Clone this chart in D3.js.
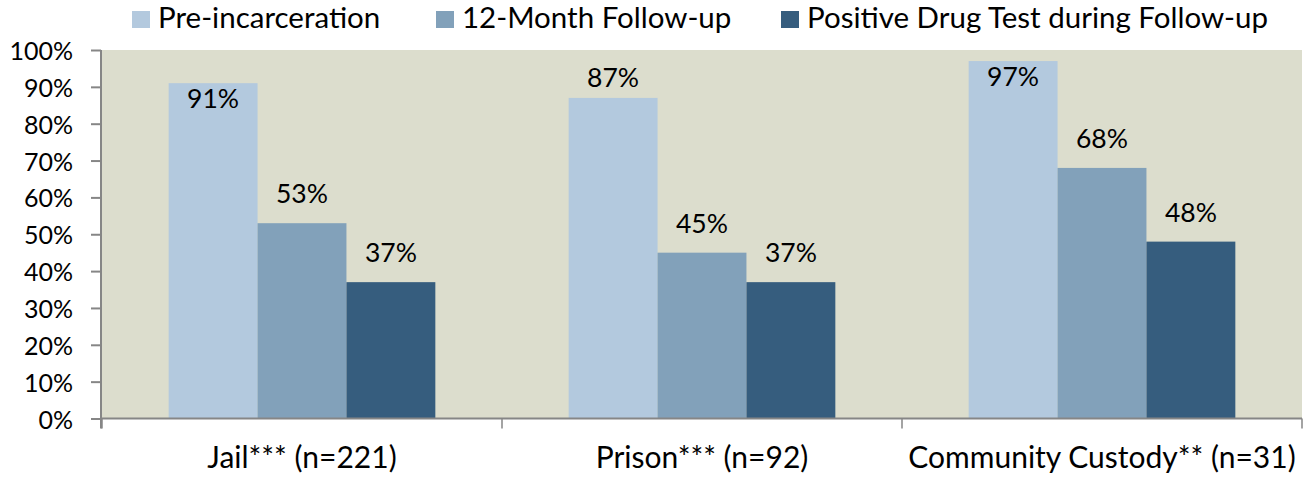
<!DOCTYPE html>
<html>
<head>
<meta charset="utf-8">
<script src="https://cdn.jsdelivr.net/npm/d3@7/dist/d3.min.js"></script>
<style>
  html, body { margin: 0; padding: 0; background: #ffffff; }
  svg { display: block; }
  text { font-family: Lato, "Open Sans", sans-serif; fill: #000; }
</style>
</head>
<body>
<svg id="chart" width="1304" height="477"></svg>
<script>
// ---- data ----
const categories = ["Jail*** (n=221)", "Prison*** (n=92)", "Community Custody** (n=31)"];
const seriesNames = ["Pre-incarceration", "12-Month Follow-up", "Positive Drug Test during Follow-up"];
const preIncarceration = [91, 87, 97];
const followUp12Month = [53, 45, 68];
const positiveDrugTest = [37, 37, 48];
const yTicks = [0, 10, 20, 30, 40, 50, 60, 70, 80, 90, 100];

const seriesValues = [preIncarceration, followUp12Month, positiveDrugTest];
const colors = ["#B3C9DE", "#82A1BA", "#365D7E"];

// ---- layout ----
const svg = d3.select("#chart");
const plot = { left: 102, right: 1302, top: 50, bottom: 418.5 };

const x0 = d3.scaleBand().domain(categories).range([plot.left, plot.right]).padding(0);
const bw = x0.bandwidth();
const gap = bw / 4.5 * 0.75; // Excel gap width 150%
const x1 = d3.scaleBand().domain(seriesNames).range([gap, bw - gap]).padding(0);
const y = d3.scaleLinear().domain([0, 100]).range([plot.bottom, plot.top]);

// plot background
svg.append("rect")
  .attr("x", plot.left).attr("y", plot.top)
  .attr("width", plot.right - plot.left).attr("height", plot.bottom - plot.top)
  .attr("fill", "#DCDDCD");

// bars
const rows = [];
categories.forEach((c, i) => {
  seriesNames.forEach((s, j) => rows.push({ cat: c, series: s, si: j, value: seriesValues[j][i] }));
});

const g = svg.append("g");
g.selectAll("rect.bar").data(rows).join("rect")
  .attr("class", "bar")
  .attr("x", d => x0(d.cat) + x1(d.series))
  .attr("y", d => y(d.value))
  .attr("width", x1.bandwidth())
  .attr("height", d => y(0) - y(d.value))
  .attr("fill", d => colors[d.si]);

// data labels
const labelSize = 26.5;
const aboveGap = 20, boxAbove = 37, insideOffset = 25;
g.selectAll("text.lbl").data(rows).join("text")
  .attr("class", "lbl")
  .attr("x", d => x0(d.cat) + x1(d.series) + x1.bandwidth() / 2)
  .attr("y", d => {
    const top = y(d.value);
    let base = top - aboveGap;
    if (base - boxAbove < plot.top) {
      const clamped = plot.top + boxAbove;
      base = clamped < top ? clamped : top + insideOffset;
    }
    return base;
  })
  .attr("text-anchor", "middle")
  .style("font-size", labelSize + "px")
  .text(d => d.value + "%");

// y axis
const yAxis = d3.axisLeft(y).tickValues(yTicks).tickSize(10).tickPadding(18)
  .tickFormat(d => d + "%");
const ya = svg.append("g").attr("transform", `translate(${plot.left - 1},0)`).call(yAxis);
ya.select(".domain").remove();
ya.selectAll(".tick line").attr("stroke", "#868686").attr("stroke-width", 2);
ya.selectAll(".tick text").style("font-size", "25px").attr("dy", "0.38em").attr("fill", "#000");
svg.append("line")
  .attr("x1", plot.left - 1).attr("x2", plot.left - 1)
  .attr("y1", plot.top).attr("y2", plot.bottom + 10)
  .attr("stroke", "#868686").attr("stroke-width", 2);

// x axis
svg.append("line")
  .attr("x1", plot.left - 1).attr("x2", plot.right)
  .attr("y1", plot.bottom).attr("y2", plot.bottom)
  .attr("stroke", "#868686").attr("stroke-width", 2);
const boundaries = categories.map(c => x0(c)).concat([plot.right]);
svg.selectAll("line.xtick").data(boundaries).join("line")
  .attr("class", "xtick")
  .attr("x1", d => d).attr("x2", d => d)
  .attr("y1", plot.bottom).attr("y2", plot.bottom + 10)
  .attr("stroke", "#868686").attr("stroke-width", 1.5);
svg.selectAll("text.cat").data(categories).join("text")
  .attr("class", "cat")
  .attr("x", d => x0(d) + bw / 2)
  .attr("y", 468)
  .attr("text-anchor", "middle")
  .style("font-size", "30px")
  .text(d => d);

// legend
const legendX = [132, 436, 781];
const lg = svg.append("g");
seriesNames.forEach((s, j) => {
  lg.append("rect").attr("x", legendX[j]).attr("y", 11).attr("width", 18).attr("height", 17).attr("fill", colors[j]);
  lg.append("text").attr("x", legendX[j] + 26).attr("y", 28).style("font-size", "29.5px").text(s);
});
</script>
</body>
</html>
